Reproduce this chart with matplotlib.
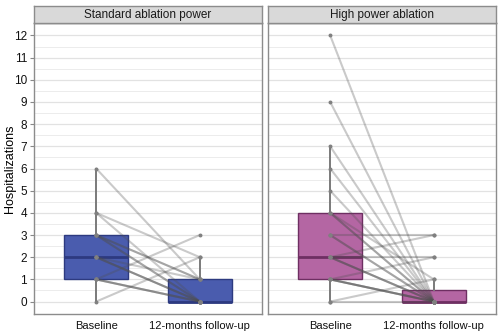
import matplotlib
matplotlib.use("Agg")
import matplotlib.pyplot as plt
import numpy as np

plt.rcParams['font.family'] = ['Liberation Sans', 'DejaVu Sans']

panels = ["Standard ablation power", "High power ablation"]
timepoints = ["Baseline", "12-months follow-up"]

std_baseline = [6, 4, 4, 3, 3, 3, 3, 2, 2, 2, 2, 1, 1, 1, 1, 0]
std_followup = [1, 2, 0, 1, 1, 0, 0, 1, 0, 0, 0, 3, 0, 0, 0, 2]

high_baseline = [12, 9, 7, 6, 5, 4, 4, 4, 3, 3, 3, 2, 2, 2, 2, 2, 1, 1, 1, 1, 1, 0, 0]
high_followup = [0, 0, 0, 0, 0, 0, 0, 1, 0, 0, 3, 3, 2, 0, 0, 0, 2, 0, 0, 0, 0, 1, 0]

fills = ["#4a5cae", "#b466a3"]
edges = ["#2d3a80", "#6e2f62"]
y_ticks = list(range(0, 13))

fig = plt.figure(figsize=(5.02, 3.35), dpi=100)
W, H = 502, 335
panel_x = [(34, 262), (268, 496)]
top, bottom = 23, 314
strip_top = 6

data = [(std_baseline, std_followup), (high_baseline, high_followup)]

for i, (x0, x1) in enumerate(panel_x):
    ax = fig.add_axes([x0 / W, (H - bottom) / H, (x1 - x0) / W, (bottom - top) / H])
    base, fu = data[i]
    ax.set_xlim(0.4, 2.6)
    ax.set_ylim(-0.56, 12.56)
    # grid
    for y in np.arange(0, 12.51, 0.5):
        ax.axhline(y, color="#ececec" if y % 1 else "#e2e2e2", lw=0.7 if y % 1 else 0.9, zorder=0)
    bp = ax.boxplot([base, fu], positions=[1, 2], widths=0.62, patch_artist=True,
                    showfliers=False, whis=1.5,
                    boxprops=dict(facecolor=fills[i], edgecolor=edges[i], lw=1.0),
                    medianprops=dict(color=edges[i], lw=2.0),
                    whiskerprops=dict(color="#7a7a7a", lw=1.4),
                    capprops=dict(visible=False), zorder=2)
    for b, f in zip(base, fu):
        ax.plot([1, 2], [b, f], color="#505050", alpha=0.3, lw=1.5, zorder=3,
                solid_capstyle="round")
    ax.scatter([1] * len(base), base, s=8, color="#808080", zorder=4, lw=0)
    ax.scatter([2] * len(fu), fu, s=8, color="#808080", zorder=4, lw=0)
    ax.set_xticks([1, 2])
    ax.set_xticklabels(timepoints, fontsize=8, color="#111111")
    ax.tick_params(axis="x", length=0, pad=5)
    ax.set_yticks(y_ticks)
    if i == 0:
        ax.set_yticklabels([str(t) for t in y_ticks], fontsize=8.5, color="#111111")
        ax.tick_params(axis="y", length=3, color="#888888", pad=2)
        ax.set_ylabel("Hospitalizations", fontsize=9)
        ax.yaxis.set_label_coords(-0.08, 0.5)
    else:
        ax.tick_params(axis="y", length=0, labelleft=False)
    for s in ax.spines.values():
        s.set_color("#8c8c8c")
        s.set_linewidth(1.0)
    # strip
    sax = fig.add_axes([x0 / W, (H - top) / H, (x1 - x0) / W, (top - strip_top) / H])
    sax.set_facecolor("#d9d9d9")
    sax.set_xticks([]); sax.set_yticks([])
    for s in sax.spines.values():
        s.set_color("#8c8c8c")
        s.set_linewidth(1.0)
    sax.text(0.5, 0.45, panels[i], ha="center", va="center", fontsize=8.5,
             color="#1a1a1a", transform=sax.transAxes)

fig.savefig("out.png", dpi=100)
